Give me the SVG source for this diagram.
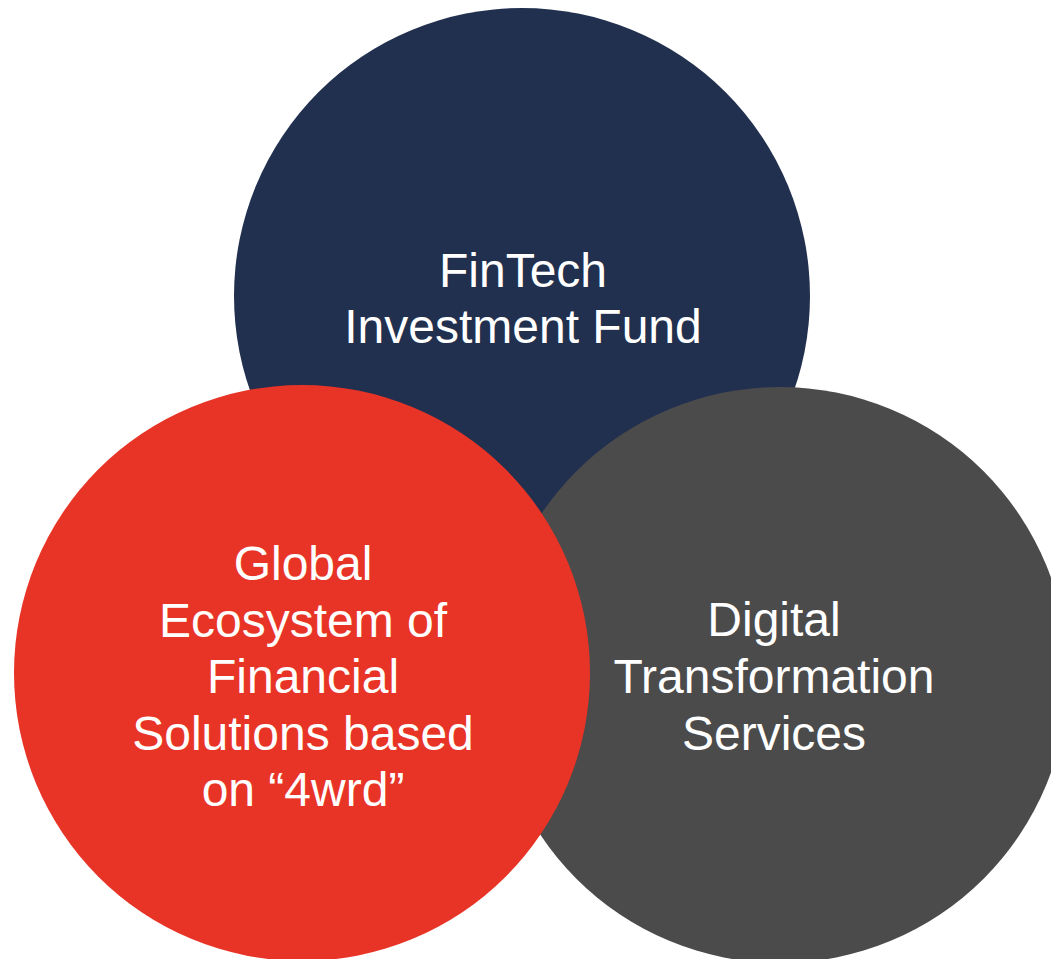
<svg xmlns="http://www.w3.org/2000/svg" width="1051" height="959" viewBox="0 0 1051 959">
<style>
.lbl{font-family:"Liberation Sans",Arial,sans-serif;font-size:48px;fill:#ffffff;text-anchor:middle}
</style>
<rect width="1051" height="959" fill="#ffffff"/>
<g id="node-fintech">
<circle cx="522" cy="296" r="288" fill="#22304f"/>
<text class="lbl" x="523" y="287">FinTech</text>
<text class="lbl" x="523" y="343">Investment Fund</text>
</g>
<g id="node-digital">
<circle cx="780" cy="675" r="288" fill="#4b4b4b"/>
<text class="lbl" x="774" y="636">Digital</text>
<text class="lbl" x="774" y="693">Transformation</text>
<text class="lbl" x="774" y="750">Services</text>
</g>
<g id="node-global">
<circle cx="302" cy="673" r="288" fill="#e83426"/>
<text class="lbl" x="303" y="580">Global</text>
<text class="lbl" x="303" y="637">Ecosystem of</text>
<text class="lbl" x="303" y="693">Financial</text>
<text class="lbl" x="303" y="750">Solutions based</text>
<text class="lbl" x="303" y="806">on “4wrd”</text>
</g>
<g id="connectors"></g>
</svg>
